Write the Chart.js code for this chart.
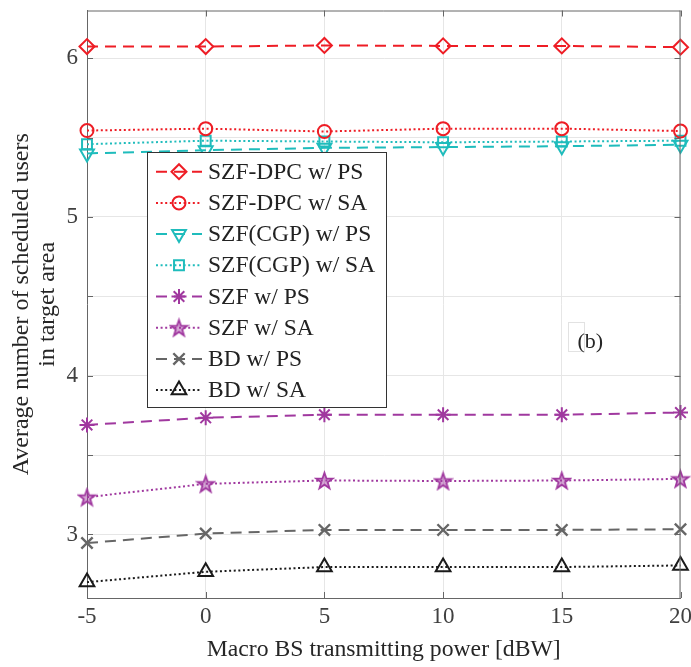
<!DOCTYPE html>
<html><head><meta charset="utf-8">
<script src="https://cdn.jsdelivr.net/npm/chart.js@4/dist/chart.umd.min.js"></script>
<style>html,body{margin:0;padding:0;background:#fff;overflow:hidden}
#wrap{width:691px;height:667px;position:relative}
canvas{display:block}
</style></head><body><div id="wrap"><canvas id="c" width="691" height="667" style="width:691px;height:667px"></canvas></div>
<script>
// ---- data ----
const xValues = [-5, 0, 5, 10, 15, 20];
const szfDpcPS = [6.073, 6.073, 6.08, 6.077, 6.077, 6.069];
const szfDpcSA = [5.544, 5.556, 5.538, 5.556, 5.556, 5.541];
const szfCgpPS = [5.40, 5.42, 5.435, 5.44, 5.445, 5.455];
const szfCgpSA = [5.458, 5.48, 5.475, 5.47, 5.475, 5.48];
const szfPS = [3.69, 3.735, 3.754, 3.754, 3.754, 3.768];
const szfSA = [3.235, 3.319, 3.34, 3.337, 3.34, 3.35];
const bdPS = [2.946, 3.006, 3.029, 3.029, 3.029, 3.033];
const bdSA = [2.70, 2.765, 2.795, 2.795, 2.795, 2.805];
const seriesNames = ['SZF-DPC w/ PS','SZF-DPC w/ SA','SZF(CGP) w/ PS','SZF(CGP) w/ SA','SZF w/ PS','SZF w/ SA','BD w/ PS','BD w/ SA'];
const xTicks = [-5, 0, 5, 10, 15, 20];
const xTickLabels = ['-5','0','5','10','15','20'];
const yTicks = [3, 3.5, 4, 4.5, 5, 5.5, 6];
const yTickLabels = ['3','','4','','5','','6'];
const xTitle = 'Macro BS transmitting power [dBW]';
const yTitle = ['Average number of scheduled users', 'in target area'];
const annotationText = '(b)';
const annotationAt = [16.2, 4.21];

// ---- styles ----
const FONT = "'Liberation Serif','Times New Roman',serif";
const RED = '#ee1d25', CYAN = '#1fbcbc', PURPLE = '#a0389f', GRAY = '#666666', BLACK = '#1a1a1a';
const DASH = [11, 7], DOT = [2, 2.6];

function pentagram(color) {
  const R = 8.5, pad = 2, s = 2 * (R + pad);
  const cv = document.createElement('canvas');
  cv.width = s; cv.height = s;
  const g = cv.getContext('2d');
  g.beginPath();
  for (let i = 0; i < 10; i++) {
    const r = i % 2 === 0 ? R : R * 0.4;
    const a = -Math.PI / 2 + i * Math.PI / 5;
    const px = s / 2 + r * Math.cos(a), py = s / 2 + r * Math.sin(a) + 0.8;
    i === 0 ? g.moveTo(px, py) : g.lineTo(px, py);
  }
  g.closePath();
  g.fillStyle = color; g.globalAlpha = 0.45; g.fill();
  g.globalAlpha = 1; g.strokeStyle = color; g.lineWidth = 1.8; g.stroke();
  return cv;
}

function ds(label, values, color, dash, pointStyle, radius, rotation, pbw) {
  return {
    label, data: xValues.map((x, i) => ({x, y: values[i]})),
    borderColor: color, backgroundColor: 'rgba(0,0,0,0)', borderWidth: 2, borderDash: dash,
    pointStyle, pointRadius: radius, pointHoverRadius: radius, pointRotation: rotation || 0,
    pointBorderColor: color, pointBackgroundColor: 'rgba(0,0,0,0)', pointBorderWidth: pbw || 2,
    tension: 0, clip: false, fill: false
  };
}

const datasets = [
  ds(seriesNames[0], szfDpcPS, RED, DASH, 'rectRot', 7.5),
  ds(seriesNames[1], szfDpcSA, RED, DOT, 'circle', 6.5),
  ds(seriesNames[2], szfCgpPS, CYAN, DASH, 'triangle', 8, 180),
  ds(seriesNames[3], szfCgpSA, CYAN, DOT, 'rect', 7),
  ds(seriesNames[4], szfPS, PURPLE, DASH, 'star', 7.5),
  ds(seriesNames[5], szfSA, PURPLE, DOT, pentagram(PURPLE), 8),
  ds(seriesNames[6], bdPS, GRAY, DASH, 'crossRot', 8, 0, 2.4),
  ds(seriesNames[7], bdSA, BLACK, DOT, 'triangle', 8.5)
];

// marker drawing for the legend (same shapes as the chart's point styles)
function drawMarker(ctx, style, r, rot, x, y, bw) {
  if (typeof style !== 'string') {
    ctx.drawImage(style, x - style.width / 2, y - style.height / 2);
    return;
  }
  const H = (window.Chart && Chart.helpers) || null;
  if (H && H.drawPoint) {
    H.drawPoint(ctx, {pointStyle: style, radius: r, rotation: rot || 0, borderWidth: bw}, x, y);
    return;
  }
  ctx.beginPath();
  const rad = (rot || 0) * Math.PI / 180;
  if (style === 'circle') ctx.arc(x, y, r, 0, 2 * Math.PI);
  else if (style === 'rect') { const s = Math.SQRT1_2 * r; ctx.rect(x - s, y - s, 2 * s, 2 * s); }
  else if (style === 'rectRot') { ctx.moveTo(x - r, y); ctx.lineTo(x, y - r); ctx.lineTo(x + r, y); ctx.lineTo(x, y + r); ctx.closePath(); }
  else if (style === 'triangle') {
    let a = rad;
    for (let k = 0; k < 3; k++) { const px = x + Math.sin(a) * r, py = y - Math.cos(a) * r; k ? ctx.lineTo(px, py) : ctx.moveTo(px, py); a += 2 * Math.PI / 3; }
    ctx.closePath();
  } else if (style === 'crossRot' || style === 'star') {
    const d = Math.SQRT1_2 * r;
    ctx.moveTo(x - d, y - d); ctx.lineTo(x + d, y + d); ctx.moveTo(x - d, y + d); ctx.lineTo(x + d, y - d);
    if (style === 'star') { ctx.moveTo(x - r, y); ctx.lineTo(x + r, y); ctx.moveTo(x, y - r); ctx.lineTo(x, y + r); }
  }
  ctx.stroke();
}

const AXIS = '#666666', GRID = '#e6e6e6';

const extras = {
  id: 'extras',
  afterDatasetsDraw(chart) {
    const {ctx, chartArea: a, scales: {x, y}} = chart;
    ctx.save();
    // top/right frame
    ctx.strokeStyle = AXIS; ctx.lineWidth = 1; ctx.setLineDash([]);
    ctx.beginPath();
    ctx.moveTo(a.left, a.top + 0.5); ctx.lineTo(a.right, a.top + 0.5);
    ctx.moveTo(a.right - 0.5, a.top); ctx.lineTo(a.right - 0.5, a.bottom);
    ctx.stroke();
    // inward tick marks
    const TL = 6;
    ctx.beginPath();
    xTicks.forEach(v => {
      const px = Math.round(x.getPixelForValue(v)) + 0.5;
      ctx.moveTo(px, a.bottom); ctx.lineTo(px, a.bottom - TL);
      ctx.moveTo(px, a.top); ctx.lineTo(px, a.top + TL);
    });
    yTicks.forEach(v => {
      const py = Math.round(y.getPixelForValue(v)) + 0.5;
      ctx.moveTo(a.left, py); ctx.lineTo(a.left + TL, py);
      ctx.moveTo(a.right, py); ctx.lineTo(a.right - TL, py);
    });
    ctx.stroke();
    // annotation
    const ax = x.getPixelForValue(annotationAt[0]), ay = y.getPixelForValue(annotationAt[1]);
    ctx.strokeStyle = '#e2e2e2';
    ctx.strokeRect(Math.round(ax) - 21.5, Math.round(ay) - 19.5, 16, 29);
    ctx.fillStyle = '#262626';
    ctx.font = '22px ' + FONT;
    ctx.textAlign = 'center'; ctx.textBaseline = 'middle';
    ctx.fillText(annotationText, ax, ay);
    // legend
    const L = 147, T = 152, W = 239, Hh = 255;
    ctx.fillStyle = '#ffffff';
    ctx.fillRect(L, T, W, Hh);
    ctx.strokeStyle = '#333333'; ctx.lineWidth = 1;
    ctx.strokeRect(L + 0.5, T + 0.5, W, Hh);
    ctx.font = '23.5px ' + FONT;
    ctx.textAlign = 'left'; ctx.textBaseline = 'middle';
    chart.data.datasets.forEach((d, i) => {
      const cy = T + 19.7 + i * 31.2;
      ctx.strokeStyle = d.borderColor; ctx.lineWidth = 2;
      ctx.setLineDash(d.borderDash);
      ctx.beginPath(); ctx.moveTo(156, cy); ctx.lineTo(202, cy); ctx.stroke();
      ctx.setLineDash([]);
      ctx.fillStyle = 'rgba(0,0,0,0)';
      ctx.strokeStyle = d.pointBorderColor; ctx.lineWidth = d.pointBorderWidth;
      try { drawMarker(ctx, d.pointStyle, d.pointRadius, d.pointRotation, 179, cy, d.pointBorderWidth); } catch (e) {}
      ctx.fillStyle = '#222222';
      ctx.fillText(d.label, 208, cy + 1);
    });
    ctx.restore();
  }
};

new Chart(document.getElementById('c'), {
  type: 'line',
  data: {datasets},
  plugins: [extras],
  options: {
    responsive: false, maintainAspectRatio: false, animation: false, devicePixelRatio: 1,
    layout: {padding: {top: 8, right: 9, left: 0, bottom: 0}},
    plugins: {legend: {display: false}, tooltip: {enabled: false}},
    scales: {
      x: {
        type: 'linear', min: -5, max: 20,
        afterBuildTicks: s => { s.ticks = xTicks.map(v => ({value: v})); },
        afterFit: s => { s.height = 69; s.paddingLeft = 0; s.paddingRight = 0; },
        ticks: {callback: (v, i) => xTickLabels[i], color: '#404040', font: {family: FONT, size: 23}, padding: 5, maxRotation: 0, autoSkip: false},
        grid: {color: GRID, drawTicks: false},
        border: {color: AXIS, width: 1},
        title: {display: true, text: xTitle, color: '#262626', font: {family: FONT, size: 23.7}, padding: {top: 0, bottom: 3}}
      },
      y: {
        type: 'linear', min: 2.6, max: 6.3,
        afterBuildTicks: s => { s.ticks = yTicks.map(v => ({value: v})); },
        afterFit: s => { s.width = 87; s.paddingTop = 0; s.paddingBottom = 0; },
        ticks: {callback: (v, i) => yTickLabels[i], color: '#404040', font: {family: FONT, size: 23}, padding: 9, autoSkip: false},
        grid: {color: GRID, drawTicks: false},
        border: {color: AXIS, width: 1},
        title: {display: true, text: yTitle, color: '#262626', font: {family: FONT, size: 24, lineHeight: 1.08}, padding: {top: 9, bottom: 0}}
      }
    }
  }
});
</script></body></html>
